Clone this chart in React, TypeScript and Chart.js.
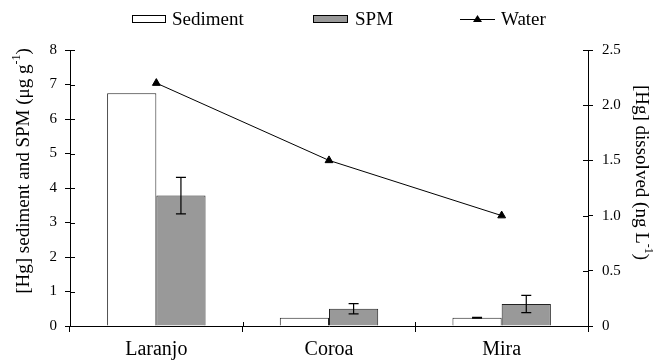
import React, { useEffect, useRef } from "react";
import { Chart, registerables } from "chart.js";

Chart.register(...registerables);

const categories = ["Laranjo", "Coroa", "Mira"];
const sediment = [6.75, 0.24, 0.24];
const sedimentErr = [0, 0, 0.01];
const spm = [3.78, 0.5, 0.64];
const spmErr = [0.53, 0.15, 0.25];
const water = [2.2, 1.5, 1.0];
const leftTicks = [0, 1, 2, 3, 4, 5, 6, 7, 8];
const rightTicks = [0, 0.5, 1, 1.5, 2, 2.5];
const leftTitle = ["[Hg] sediment and SPM (μg g", "-1", ")"];
const rightTitle = ["[Hg] dissolved (ng L", "-1", ")"];

const FONT = "'Liberation Serif', 'Times New Roman', serif";

const errorBarPlugin = {
  id: "errorBars",
  afterDatasetsDraw(chart: any) {
    const ctx = chart.ctx;
    const yS = chart.scales.y;
    const errs = [sedimentErr, spmErr];
    [0, 1].forEach((di) => {
      const meta = chart.getDatasetMeta(di);
      const vals = chart.data.datasets[di].data;
      meta.data.forEach((el: any, i: number) => {
        const e = errs[di][i];
        if (!e) return;
        const v = vals[i];
        const yt = yS.getPixelForValue(v + e);
        const yb = yS.getPixelForValue(v - e);
        ctx.save();
        ctx.strokeStyle = "#000";
        ctx.lineWidth = 1.2;
        ctx.beginPath();
        ctx.moveTo(el.x, yt);
        ctx.lineTo(el.x, yb);
        ctx.moveTo(el.x - 5, yt);
        ctx.lineTo(el.x + 5, yt);
        ctx.moveTo(el.x - 5, yb);
        ctx.lineTo(el.x + 5, yb);
        ctx.stroke();
        ctx.restore();
      });
    });
  },
};

function drawTitle(ctx: any, parts: string[], cx: number, cy: number, rot: number) {
  ctx.save();
  ctx.translate(cx, cy);
  ctx.rotate(rot);
  const main = `19px ${FONT}`;
  const sup = `12px ${FONT}`;
  ctx.font = main;
  const w0 = ctx.measureText(parts[0]).width;
  const w2 = ctx.measureText(parts[2]).width;
  ctx.font = sup;
  const w1 = ctx.measureText(parts[1]).width;
  const total = w0 + w1 + w2;
  let x = -total / 2;
  ctx.fillStyle = "#000";
  ctx.textBaseline = "middle";
  ctx.textAlign = "left";
  ctx.font = main;
  ctx.fillText(parts[0], x, 0);
  x += w0;
  ctx.font = sup;
  ctx.fillText(parts[1], x, -7);
  x += w1;
  ctx.font = main;
  ctx.fillText(parts[2], x, 0);
  ctx.restore();
}

const decorPlugin = {
  id: "decor",
  afterDraw(chart: any) {
    const ctx = chart.ctx;
    const area = chart.chartArea;
    const yL = chart.scales.y;
    const yR = chart.scales.y1;
    const xS = chart.scales.x;
    ctx.save();
    ctx.strokeStyle = "#000";
    ctx.lineWidth = 1;
    ctx.beginPath();
    leftTicks.forEach((v) => {
      const y = Math.round(yL.getPixelForValue(v)) + 0.5;
      ctx.moveTo(area.left, y);
      ctx.lineTo(area.left + 5, y);
    });
    rightTicks.forEach((v) => {
      const y = Math.round(yR.getPixelForValue(v)) + 0.5;
      ctx.moveTo(area.right - 5, y);
      ctx.lineTo(area.right, y);
    });
    for (let i = 1; i < categories.length; i++) {
      const x =
        Math.round((xS.getPixelForValue(i - 1) + xS.getPixelForValue(i)) / 2) + 0.5;
      ctx.moveTo(x, area.bottom);
      ctx.lineTo(x, area.bottom - 4);
    }
    ctx.stroke();

    // legend
    ctx.font = `19px ${FONT}`;
    ctx.textBaseline = "middle";
    ctx.textAlign = "left";
    const cy = 20.5;
    ctx.fillStyle = "#fff";
    ctx.fillRect(132, 15, 34, 8);
    ctx.strokeRect(132.5, 15.5, 33, 7);
    ctx.fillStyle = "#000";
    ctx.fillText("Sediment", 172, cy);
    ctx.fillStyle = "#999";
    ctx.fillRect(313, 15, 35, 8);
    ctx.strokeRect(313.5, 15.5, 34, 7);
    ctx.fillStyle = "#000";
    ctx.fillText("SPM", 355, cy);
    ctx.beginPath();
    ctx.moveTo(460, 19.5);
    ctx.lineTo(495, 19.5);
    ctx.stroke();
    ctx.beginPath();
    ctx.moveTo(477.5, 15);
    ctx.lineTo(482, 22);
    ctx.lineTo(473, 22);
    ctx.closePath();
    ctx.fill();
    ctx.fillText("Water", 501, cy);
    ctx.restore();

    drawTitle(ctx, leftTitle, 24, 171, -Math.PI / 2);
    drawTitle(ctx, rightTitle, 641, 172.5, Math.PI / 2);
  },
};

export default function App() {
  const ref = useRef<HTMLCanvasElement>(null);
  useEffect(() => {
    document.body.style.margin = "0";
    const chart = new Chart(ref.current!, {
      type: "bar",
      data: {
        labels: categories,
        datasets: [
          {
            type: "bar",
            label: "Sediment",
            data: sediment,
            backgroundColor: "#ffffff",
            borderColor: "#222",
            borderWidth: 1,
            yAxisID: "y",
            categoryPercentage: 0.57,
            barPercentage: 1,
            order: 2,
          },
          {
            type: "bar",
            label: "SPM",
            data: spm,
            backgroundColor: "#999999",
            borderColor: "#222",
            borderWidth: 1,
            yAxisID: "y",
            categoryPercentage: 0.57,
            barPercentage: 1,
            order: 2,
          },
          {
            type: "line",
            label: "Water",
            data: water,
            borderColor: "#000",
            backgroundColor: "#000",
            borderWidth: 1,
            pointStyle: "triangle",
            pointRadius: 4.5,
            yAxisID: "y1",
            order: 1,
          } as any,
        ],
      },
      options: {
        responsive: false,
        animation: false,
        layout: { padding: { top: 50, left: 0, right: 0, bottom: 0 } },
        plugins: { legend: { display: false }, tooltip: { enabled: false } },
        scales: {
          x: {
            offset: true,
            grid: {
              offset: true,
              drawOnChartArea: false,
              tickLength: 6,
              color: "#000",
            },
            border: { color: "#000", width: 1 },
            ticks: { font: { family: FONT, size: 20 }, color: "#000", padding: 6 },
            afterFit: (s: any) => {
              s.height = 35;
            },
          },
          y: {
            position: "left",
            min: 0,
            max: 8,
            afterBuildTicks: (s: any) => {
              s.ticks = leftTicks.map((v) => ({ value: v }));
            },
            grid: { drawOnChartArea: false, tickLength: 5, color: "#000" },
            border: { color: "#000", width: 1 },
            ticks: { font: { family: FONT, size: 15 }, color: "#000", padding: 8 },
            afterFit: (s: any) => {
              s.width = 70;
            },
          },
          y1: {
            position: "right",
            min: 0,
            max: 2.5,
            afterBuildTicks: (s: any) => {
              s.ticks = rightTicks.map((v) => ({ value: v }));
            },
            grid: { drawOnChartArea: false, tickLength: 5, color: "#000" },
            border: { color: "#000", width: 1 },
            ticks: { font: { family: FONT, size: 15 }, color: "#000", padding: 9 },
            afterFit: (s: any) => {
              s.width = 68;
            },
          },
        },
      },
      plugins: [errorBarPlugin, decorPlugin],
    });
    return () => chart.destroy();
  }, []);
  return <canvas ref={ref} width={656} height={361} />;
}
